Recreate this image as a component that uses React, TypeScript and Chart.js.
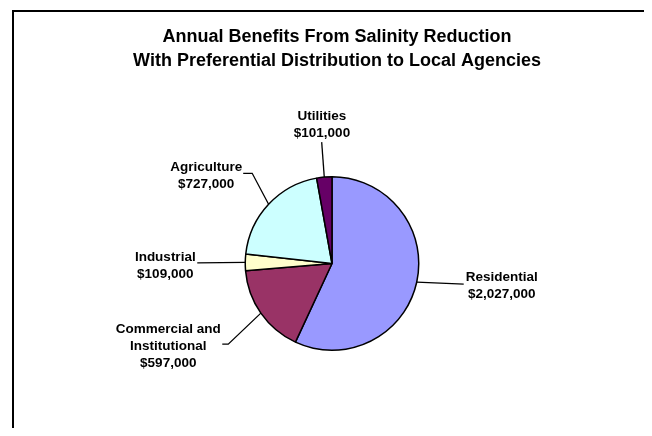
import React, { useEffect, useRef } from "react";
import { Chart, registerables } from "chart.js";

Chart.register(...registerables);

const categories = ["Residential", "Commercial and Institutional", "Industrial", "Agriculture", "Utilities"];
const values = [2027000, 597000, 109000, 727000, 101000];
const labelLines = [
  ["Residential", "$2,027,000"],
  ["Commercial and", "Institutional", "$597,000"],
  ["Industrial", "$109,000"],
  ["Agriculture", "$727,000"],
  ["Utilities", "$101,000"],
];
const colors = ["#9999FF", "#993366", "#FFFFCC", "#CCFFFF", "#660066"];
const titleLines = [
  "Annual Benefits From Salinity Reduction",
  "With Preferential Distribution to Local Agencies",
];

// Leader-line layout, relative to the slice's outer edge point at mid angle
const leaderLayout = [
  { path: [[47, 2]], text: [85, 3.5] },
  { path: [[-32.6, 31], [-38.6, 31]], text: [-92.6, 33.5] },
  { path: [[-48, 0.6]], text: [-80, 3] },
  { path: [[-16.4, -31], [-25.4, -31]], text: [-62.4, -28.5] },
  { path: [[-2.6, -35]], text: [-2.3, -52.3] },
];

const FONT = '"Liberation Sans", Arial, sans-serif';

const labelPlugin = {
  id: "pieLabels",
  afterDraw(chart: any) {
    const ctx = chart.ctx;
    ctx.save();
    // title
    ctx.fillStyle = "#000";
    ctx.font = `bold 18px ${FONT}`;
    ctx.textAlign = "center";
    ctx.textBaseline = "middle";
    titleLines.forEach((t, i) => ctx.fillText(t, 329, 29 + i * 23.6));

    const meta = chart.getDatasetMeta(0);
    meta.data.forEach((arc: any, i: number) => {
      const { x, y, startAngle, endAngle, outerRadius } = arc.getProps(
        ["x", "y", "startAngle", "endAngle", "outerRadius"],
        true
      );
      const mid = (startAngle + endAngle) / 2;
      const ex = x + Math.cos(mid) * outerRadius;
      const ey = y + Math.sin(mid) * outerRadius;
      const lay = leaderLayout[i];
      ctx.strokeStyle = "#000";
      ctx.lineWidth = 1.3;
      ctx.beginPath();
      ctx.moveTo(ex, ey);
      lay.path.forEach(([dx, dy]) => ctx.lineTo(ex + dx, ey + dy));
      ctx.stroke();
      const lines = labelLines[i];
      const lh = 17;
      const cx = ex + lay.text[0];
      const cy = ey + lay.text[1];
      ctx.font = `bold 13.5px ${FONT}`;
      ctx.fillStyle = "#000";
      ctx.textAlign = "center";
      ctx.textBaseline = "middle";
      lines.forEach((l, j) => {
        ctx.fillText(l, cx, cy + (j - (lines.length - 1) / 2) * lh);
      });
    });
    ctx.restore();
  },
};

export default function App() {
  const ref = useRef<HTMLCanvasElement>(null);
  useEffect(() => {
    if (!ref.current) return;
    const chart = new Chart(ref.current, {
      type: "pie",
      data: {
        labels: categories,
        datasets: [
          {
            data: values,
            backgroundColor: colors,
            borderColor: "#000",
            borderWidth: 1.5,
          },
        ],
      },
      options: {
        responsive: true,
        maintainAspectRatio: false,
        animation: false,
        layout: { padding: { left: 236, right: 224, top: 168, bottom: 77 } },
        plugins: {
          legend: { display: false },
          title: { display: false },
          tooltip: { enabled: false },
        },
      },
      plugins: [labelPlugin],
    });
    return () => chart.destroy();
  }, []);
  return (
    <div style={{ position: "relative", width: 636, height: 420, overflow: "hidden", background: "#fff" }}>
      <canvas ref={ref} style={{ width: "100%", height: "100%" }} />
      <div
        style={{
          position: "absolute",
          left: 4,
          top: 2,
          width: 700,
          height: 600,
          borderLeft: "2px solid #000",
          borderTop: "2px solid #000",
          pointerEvents: "none",
        }}
      />
    </div>
  );
}
